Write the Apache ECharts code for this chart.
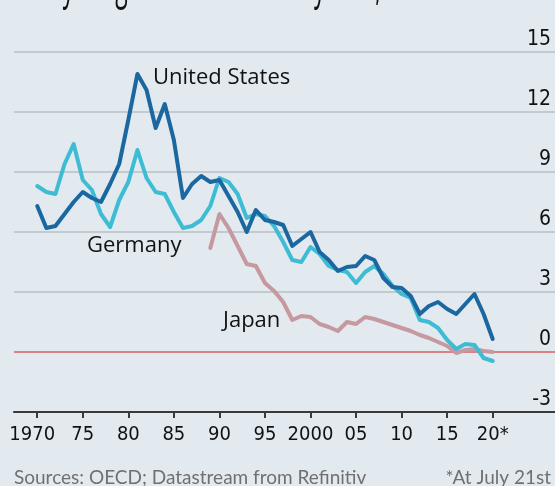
<!DOCTYPE html>
<html>
<head>
<meta charset="utf-8">
<script src="https://cdn.jsdelivr.net/npm/echarts@6/dist/echarts.min.js"></script>
<style>
html,body{margin:0;padding:0;background:#e2eaf0;}
#c{width:555px;height:486px;}
</style>
</head>
<body>
<div id="c"></div>
<script>
const years = [];
for (let y = 1970; y <= 2020; y++) years.push(y);

const usYields = [7.3, 6.2, 6.3, 6.9, 7.5, 8.0, 7.7, 7.5, 8.4, 9.4,
  11.6, 13.9, 13.1, 11.2, 12.4, 10.6, 7.7, 8.4, 8.8, 8.5,
  8.6, 7.8, 7.0, 6.0, 7.1, 6.6, 6.5, 6.35, 5.3, 5.65,
  6.0, 5.0, 4.6, 4.05, 4.25, 4.3, 4.8, 4.6, 3.7, 3.25,
  3.2, 2.8, 1.9, 2.3, 2.5, 2.15, 1.9, 2.4, 2.9, 1.9,
  0.65];

const germanyYields = [8.3, 8.0, 7.9, 9.4, 10.4, 8.6, 8.1, 6.9, 6.25, 7.6,
  8.5, 10.1, 8.7, 8.0, 7.9, 7.0, 6.2, 6.3, 6.6, 7.3,
  8.7, 8.5, 7.9, 6.7, 6.9, 6.8, 6.3, 5.5, 4.6, 4.5,
  5.25, 4.9, 4.3, 4.1, 4.0, 3.45, 4.0, 4.3, 3.9, 3.3,
  2.9, 2.7, 1.6, 1.5, 1.2, 0.6, 0.15, 0.4, 0.35, -0.3,
  -0.45];

const japanYields = [null, null, null, null, null, null, null, null, null, null,
  null, null, null, null, null, null, null, null, null, 5.2,
  6.9, 6.2, 5.3, 4.4, 4.3, 3.45, 3.05, 2.5, 1.6, 1.8,
  1.75, 1.4, 1.25, 1.05, 1.5, 1.4, 1.75, 1.65, 1.5, 1.35,
  1.2, 1.05, 0.85, 0.7, 0.5, 0.3, -0.05, 0.1, 0.15, 0.05,
  0.0];

const xTickYears = [1970, 1975, 1980, 1985, 1990, 1995, 2000, 2005, 2010, 2015, 2020];
const xTickLabels = ['1970', '75', '80', '85', '90', '95', '2000', '05', '10', '15', '20*'];
const yTickValues = [-3, 0, 3, 6, 9, 12, 15];
const yTickLabels = ['-3', '0', '3', '6', '9', '12', '15'];

const seriesNames = ['Japan', 'Germany', 'United States'];
const titleText = '10-year government bond yields, %';
const sourceText = 'Sources: OECD; Datastream from Refinitiv';
const noteText = '*At July 21st';

function pairs(vals) { return years.map((y, i) => [y, vals[i]]); }

const axisFont = "'Liberation Sans Narrow', 'DejaVu Sans Condensed', sans-serif";

const chart = echarts.init(document.getElementById('c'), null, {renderer: 'canvas', width: 555, height: 486});

const lineCommon = {type: 'line', showSymbol: false, symbol: 'none', smooth: false, connectNulls: false,
  lineStyle: {width: 4, join: 'round', cap: 'round'}};

chart.setOption({
  backgroundColor: '#e2eaf0',
  animation: false,
  grid: {left: 14, right: 0, top: 52, bottom: 74, outerBoundsMode: 'none'},
  xAxis: {
    type: 'value', min: 1967.45, max: 2026.84,
    axisLine: {show: true, onZero: false, lineStyle: {color: '#3a3a3a', width: 2.2}},
    axisTick: {show: true, customValues: xTickYears, length: 6, lineStyle: {color: '#3a3a3a', width: 2}},
    axisLabel: {customValues: xTickYears,
      formatter: v => {
        const i = xTickYears.indexOf(v);
        return i === 0 ? '{first|' + xTickLabels[i] + '}' : xTickLabels[i];
      },
      rich: {first: {padding: [0, 10, 0, 0], color: '#111', fontFamily: axisFont, fontSize: 20}},
      color: '#111', fontFamily: axisFont, fontSize: 20, margin: 13},
    splitLine: {show: false}
  },
  yAxis: {
    type: 'value', position: 'right', min: -3, max: 15, interval: 3,
    axisLine: {show: false}, axisTick: {show: false},
    axisLabel: {inside: true, margin: 4, verticalAlign: 'bottom', padding: [0, 0, 2, 0],
      formatter: v => yTickLabels[yTickValues.indexOf(v)],
      color: '#111', fontFamily: axisFont, fontSize: 21},
    splitLine: {show: true, lineStyle: {color: '#b7bfc5', width: 1.5}}
  },
  series: [
    Object.assign({}, lineCommon, {name: seriesNames[0], data: pairs(japanYields), z: 3,
      lineStyle: Object.assign({}, lineCommon.lineStyle, {color: '#c6989f'}),
      markLine: {silent: true, symbol: ['none', 'none'], z: 1, label: {show: false},
        lineStyle: {color: '#e06a6d', width: 1.5, type: 'solid'}, data: [{yAxis: 0}]}}),
    Object.assign({}, lineCommon, {name: seriesNames[1], data: pairs(germanyYields), z: 4,
      lineStyle: Object.assign({}, lineCommon.lineStyle, {color: '#3dbcd3'})}),
    Object.assign({}, lineCommon, {name: seriesNames[2], data: pairs(usYields), z: 5,
      lineStyle: Object.assign({}, lineCommon.lineStyle, {color: '#1b67a0'})})
  ],
  graphic: [
    {type: 'text', x: 29, y: -7, scaleY: 2.1, originY: 7, silent: true,
      style: {text: titleText, font: "23px 'Open Sans'", fill: '#111', verticalAlign: 'middle'}},
    {type: 'text', x: 153, y: 78, silent: true,
      style: {text: seriesNames[2], font: "22px 'Open Sans'", fill: '#111', verticalAlign: 'middle'}},
    {type: 'text', x: 87, y: 246, silent: true,
      style: {text: seriesNames[1], font: "22px 'Open Sans'", fill: '#111', verticalAlign: 'middle'}},
    {type: 'text', x: 223, y: 321, silent: true,
      style: {text: seriesNames[0], font: "22px 'Open Sans'", fill: '#111', verticalAlign: 'middle'}},
    {type: 'text', x: 14, y: 478, silent: true,
      style: {text: sourceText, font: "19px Lato", fill: '#707070', verticalAlign: 'middle'}},
    {type: 'text', x: 551, y: 478, silent: true,
      style: {text: noteText, font: "19px Lato", fill: '#707070', align: 'right', verticalAlign: 'middle'}}
  ]
});
</script>
</body>
</html>
